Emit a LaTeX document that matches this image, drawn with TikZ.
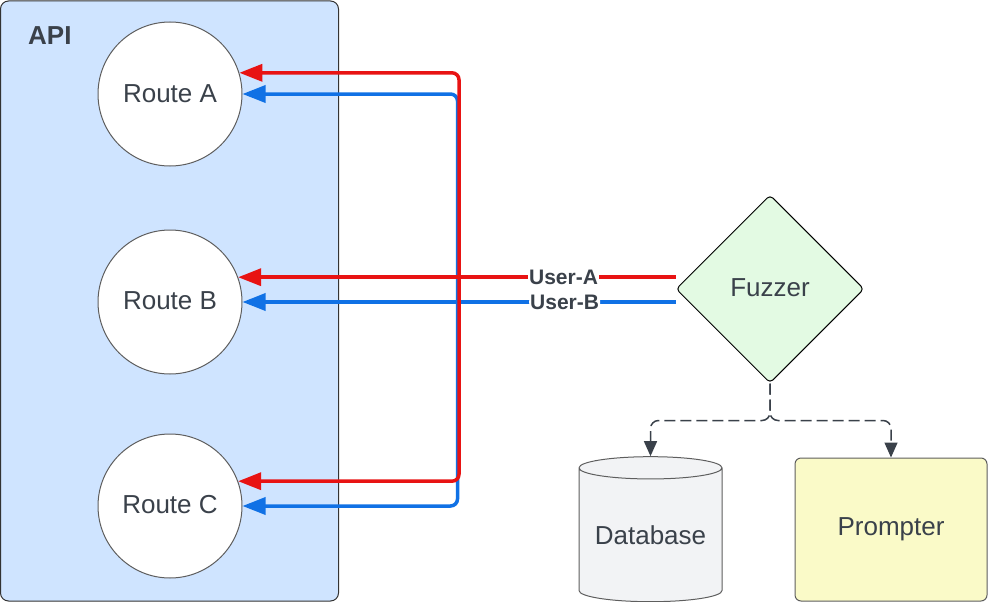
\documentclass[tikz,border=0pt]{standalone}
\usepackage{fontspec}
\setmainfont{Liberation Sans}
\usetikzlibrary{positioning,arrows.meta,calc,shapes.geometric}
\definecolor{ink}{HTML}{3A414A}
\definecolor{apiBlue}{HTML}{CFE4FF}
\definecolor{wireRed}{HTML}{E81313}
\definecolor{wireBlue}{HTML}{1071E5}
\definecolor{fuzzGreen}{HTML}{E3FAE3}
\definecolor{dbGrey}{HTML}{F2F3F5}
\definecolor{promptYellow}{HTML}{FAFAC8}
\definecolor{edgeGrey}{HTML}{5E5E5E}

\tikzset{
  label text/.style={text=ink,font=\fontsize{26}{30}\selectfont},
  route/.style={circle,draw=edgeGrey,line width=1pt,fill=white,
                minimum size=144pt,inner sep=0pt,label text},
  wire/.style={line width=3.5pt,rounded corners=7pt,
               -{Triangle[length=23pt,width=17pt]}},
  redwire/.style={wire,draw=wireRed},
  bluewire/.style={wire,draw=wireBlue},
  wirelabel/.style={fill=white,inner sep=1pt,text=ink,
                    font=\bfseries\fontsize{21}{24}\selectfont},
  dashline/.style={draw=ink,line width=1.5pt,dash pattern=on 11pt off 5pt,
                   rounded corners=8pt,-{Triangle[length=15pt,width=13pt]}},
}

\begin{document}
\begin{tikzpicture}[x=1pt,y=-1pt]
  \useasboundingbox (0,0) rectangle (988,602);

  % the API container and its routes
  \node (api) [rectangle,rounded corners=8pt,draw=black!80,line width=1pt,
               fill=apiBlue,minimum width=338pt,minimum height=600pt,
               inner sep=0pt] at (169.5,301) {};
  \node (apilbl) [anchor=base west,inner sep=0pt,text=ink,
                  font=\bfseries\fontsize{26}{30}\selectfont] at (28,45) {API};
  \node (ra) [route] at (170,94) {Route A};
  \node (rb) [route,below=63pt of ra] {\raisebox{2pt}{Route B}};
  \node (rc) [route,below=59pt of rb] {\raisebox{3pt}{Route C}};

  % fuzzer and the things it uses
  \node (fz) [diamond,draw=black,line width=1pt,fill=fuzzGreen,
              rounded corners=4pt,minimum width=188pt,minimum height=188pt,
              inner sep=0pt,aspect=1,label text] at (770,289) {\raisebox{3pt}{Fuzzer}};
  \node (db) [cylinder,shape border rotate=90,aspect=0.2,draw=edgeGrey,
              line width=1pt,fill=dbGrey,minimum width=143pt,
              minimum height=145pt,inner sep=0pt,label text] at (650.5,535) {\raisebox{-6pt}{Database}};
  \node (pr) [rectangle,rounded corners=6pt,draw=edgeGrey,line width=1pt,
              fill=promptYellow,minimum width=192pt,minimum height=143pt,
              label text] at (891,529.5) {Prompter};

  % wires from the fuzzer to every route
  \coordinate (xr) at (459,0);
  \coordinate (xb) at (457.5,0);
  \draw[bluewire] (xb |- rb.east) |- (ra.east);
  \draw[bluewire] (xb |- rb.east) |- (rc.east);
  \draw[bluewire] (fz.west |- rb.east) -- node[wirelabel,pos=0.256] {User-B} (rb.east);
  \draw[redwire] (xr |- rb.20) |- (ra.17);
  \draw[redwire] (xr |- rb.20) |- (rc.20);
  \draw[redwire] (fz.west |- rb.20) -- node[wirelabel,pos=0.256] {User-A} (rb.20);

  % dashed fork below the fuzzer
  \coordinate (fork) at ($(fz.south)+(0,37)$);
  \draw[dashline] (fz.south) -- (fork) -| (db.north);
  \draw[dashline] (fz.south) -- (fork) -| (pr.north);
\end{tikzpicture}
\end{document}
